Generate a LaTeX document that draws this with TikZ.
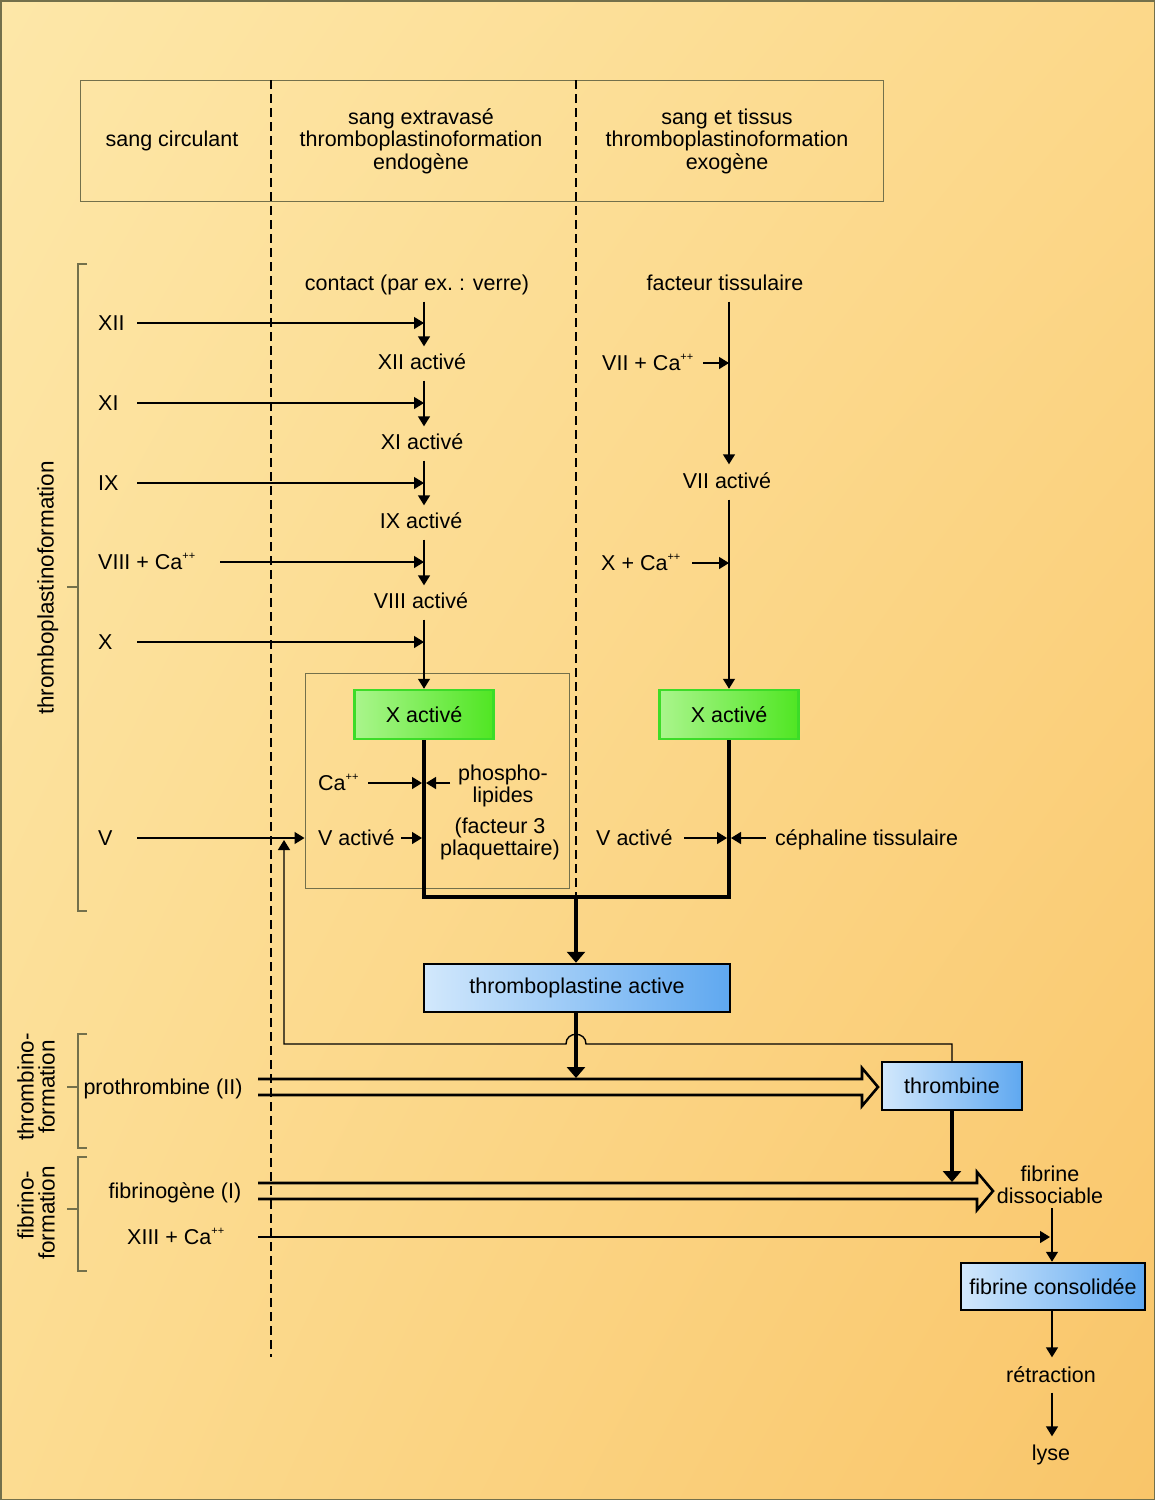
\documentclass[tikz,border=0pt]{standalone}
\usepackage{fontspec}
\setmainfont{Liberation Sans}
\usetikzlibrary{arrows.meta,calc,shadings}
\definecolor{bgA}{RGB}{253,231,168}
\definecolor{bgB}{RGB}{252,216,138}
\definecolor{bgC}{RGB}{252,220,145}
\definecolor{bgD}{RGB}{249,197,105}
\definecolor{olive}{RGB}{115,112,75}
\definecolor{gA}{RGB}{170,245,140}
\definecolor{gB}{RGB}{80,230,35}
\definecolor{gEdge}{RGB}{60,220,40}
\definecolor{bA}{RGB}{210,232,252}
\definecolor{bB}{RGB}{95,168,240}
\newcommand{\pp}{\raisebox{0.45em}{\fontsize{11}{11}\selectfont ++}}
\begin{document}
\begin{tikzpicture}[x=1pt,y=-1pt,
 lbl/.style={inner sep=0pt,text height=15pt,text depth=0pt,font=\fontsize{21.5}{22.5}\selectfont},
 rlbl/.style={inner sep=0pt,text height=15pt,text depth=0pt,rotate=90,font=\fontsize{22.5}{24}\selectfont},
 mlbl/.style={inner sep=0pt,align=center,font=\fontsize{21.5}{22.5}\selectfont},
 arr/.style={line width=1.4pt,-{Triangle[length=10pt,width=12pt]}},
 tarr/.style={line width=4pt,-{Triangle[length=11pt,width=18pt]}},
 tline/.style={line width=4pt,line join=miter},
 dline/.style={line width=1.4pt,dash pattern=on 9pt off 5pt},
 boxframe/.style={draw=olive,line width=1pt},
 brk/.style={draw=olive,line width=1.2pt},
 gbox/.style={draw=gEdge,line width=2.5pt,left color=gA,right color=gB,minimum width=139pt,minimum height=49pt,font=\fontsize{21.5}{22.5}\selectfont},
 bbox/.style={draw=black,line width=2.5pt,left color=bA,right color=bB,minimum height=48pt,font=\fontsize{21.5}{22.5}\selectfont},
 dbl/.style={line width=2.6pt,line join=miter},
 fb/.style={line width=1.4pt}
]
\useasboundingbox (0,0) rectangle (1155,1500);
\shade[upper left=bgA,upper right=bgB,lower left=bgC,lower right=bgD] (0,0) rectangle (1155,1500);
\draw[olive,line width=1.5pt] (0.75,0.75) rectangle (1154.25,1499.25);

% header
\draw[boxframe] (80,80) rectangle (883,201);
\node[lbl] (hc) at (172,139) {sang circulant};
\node[mlbl] (hendo) at (421,141) {sang extravasé\\thromboplastinoformation\\endogène};
\node[mlbl] (hexo) at (727,141) {sang et tissus\\thromboplastinoformation\\exogène};

% dashed separators
\coordinate (d1t) at (271,80); \coordinate (d1b) at (271,1357);
\coordinate (d2t) at (576,80); \coordinate (d2b) at (576,897);
\draw[dline] (d1t) -- (d1b);
\draw[dline] (d2t) -- (d2b);

% brackets
\draw[brk] (87,264) -- (78,264) -- (78,911) -- (87,911);
\draw[brk] (78,587) -- (67,587);
\draw[brk] (87,1034) -- (78,1034) -- (78,1148) -- (87,1148);
\draw[brk] (78,1087) -- (67,1087);
\draw[brk] (87,1157) -- (78,1157) -- (78,1271) -- (87,1271);
\draw[brk] (78,1209) -- (67,1209);
\node[rlbl] (lt1) at (46,588) {thromboplastinoformation};
\node[rlbl] (lt2) at (26,1087) {thrombino-};
\node[rlbl] (lt3) at (47,1087) {formation};
\node[rlbl] (lt4) at (26,1205) {fibrino-};
\node[rlbl] (lt5) at (47,1213) {formation};

% helper x positions
\coordinate (sx) at (137,0);
\coordinate (sx8) at (220,0);
\coordinate (ex) at (424,0);
\coordinate (ex2) at (729,0);
\coordinate (xl) at (422,0);
\coordinate (xr) at (426,0);
\coordinate (xl2) at (727,0);
\coordinate (xr2) at (731,0);
\coordinate (s7) at (703,0);
\coordinate (s10) at (692,0);

% platelet frame
\node[draw=olive,line width=1pt,minimum width=264pt,minimum height=215pt,inner sep=0pt] (plq) at (437,780.5) {};

% factor labels (left)
\node[lbl,anchor=west] (f12) at (98,323) {XII};
\node[lbl,anchor=west] (f11) at (98,403) {XI};
\node[lbl,anchor=west] (f9) at (98,483) {IX};
\node[lbl,anchor=west] (f8) at (98,562) {VIII + Ca\pp};
\node[lbl,anchor=west] (f10) at (98,642) {X};
\node[lbl,anchor=west] (f5) at (98,838) {V};

% endogenous column
\node[lbl] (contact) at (417,283) {contact (par ex.\ : verre)};
\node[lbl] (a12) at (422,362) {XII activé};
\node[lbl] (a11) at (422,442) {XI activé};
\node[lbl] (a9) at (421,521) {IX activé};
\node[lbl] (a8) at (421,601) {VIII activé};

% exogenous column
\node[lbl] (ft) at (725,283) {facteur tissulaire};
\node[lbl,anchor=west] (f7) at (602,363) {VII + Ca\pp};
\node[lbl] (a7) at (727,481) {VII activé};
\node[lbl,anchor=west] (f10b) at (601,563) {X + Ca\pp};

% thick junction
\coordinate (jn) at (576,897);
\coordinate (xa1b) at (424,739);
\coordinate (xa2b) at (729,739);
\draw[tline] (xa1b) |- (jn) -| (xa2b);

% boxes
\node[gbox] (xa1) at (424,714.5) {X activé};
\node[gbox] (xa2) at (729,714.5) {X activé};
\node[bbox,minimum width=306pt] (tp) at (577,988) {thromboplastine active};
\node[bbox,minimum width=140pt] (thr) at (952,1086) {thrombine};
\node[bbox,minimum width=184pt,minimum height=47pt] (fcons) at (1053,1286.5) {fibrine consolidée};

% endogenous arrows
\draw[arr] (f12 -| sx) -- (f12 -| ex);
\draw[arr] (f11 -| sx) -- (f11 -| ex);
\draw[arr] (f9 -| sx) -- (f9 -| ex);
\draw[arr] (f8 -| sx8) -- (f8 -| ex);
\draw[arr] (f10 -| sx) -- (f10 -| ex);
\draw[arr] ([yshift=-11pt]contact.south -| ex) -- ([yshift=8pt]a12.north -| ex);
\draw[arr] ([yshift=-11pt]a12.south -| ex) -- ([yshift=8pt]a11.north -| ex);
\draw[arr] ([yshift=-11pt]a11.south -| ex) -- ([yshift=8pt]a9.north -| ex);
\draw[arr] ([yshift=-11pt]a9.south -| ex) -- ([yshift=8pt]a8.north -| ex);
\draw[arr] ([yshift=-11pt]a8.south -| ex) -- (xa1.north);

% exogenous arrows
\draw[arr] ([yshift=-11pt]ft.south -| ex2) -- ([yshift=9pt]a7.north -| ex2);
\draw[arr] (f7 -| s7) -- (f7 -| ex2);
\draw[arr] ([yshift=-11pt]a7.south -| ex2) -- (xa2.north);
\draw[arr] (f10b -| s10) -- (f10b -| ex2);

% platelet cofactors
\node[lbl,anchor=west] (ca) at (318,783) {Ca\pp};
\node[mlbl] (phos) at (503,786) {phospho-\\lipides};
\node[mlbl] (fac3) at (500,839) {(facteur 3\\plaquettaire)};
\node[lbl,anchor=west] (va1) at (318,838) {V activé};
\coordinate (c368) at (368,0);
\coordinate (c450) at (450,0);
\draw[arr] (ca -| c368) -- (ca -| xl);
\draw[arr] (ca -| c450) -- (ca -| xr);
\coordinate (c401) at (401,0);
\draw[arr] (va1 -| c401) -- (va1 -| xl);
\draw[arr] (f5 -| sx) -- (f5 -| plq.west);

% tissue cofactors
\node[lbl,anchor=west] (va2) at (596,838) {V activé};
\node[lbl,anchor=west] (ceph) at (775,838) {céphaline tissulaire};
\coordinate (c684) at (684,0);
\coordinate (c766) at (766,0);
\draw[arr] (va2 -| c684) -- (va2 -| xl2);
\draw[arr] (ceph -| c766) -- (ceph -| xr2);

% to thromboplastine
\draw[tarr] (jn) -- (tp.north -| jn);

% prothrombine double arrow
\node[lbl] (proth) at (163,1087) {prothrombine (II)};
\coordinate (pS) at (258,1087);
\coordinate (pT) at (878,1087);
\draw[dbl] ($(pS)+(0,-8)$) -- ($(pT)+(-16,-8)$) -- ($(pT)+(-16,-19)$) -- (pT) -- ($(pT)+(-16,19)$) -- ($(pT)+(-16,8)$) -- ($(pS)+(0,8)$);

% feedback line with hop
\coordinate (fbY) at (0,1044);
\coordinate (fbX) at (284,0);
\coordinate (hop) at (576,1044);
\draw[fb,-{Triangle[length=10pt,width=12pt]}] (thr.north) -- (thr.north |- fbY) -- ($(hop)+(10,0)$) .. controls ($(hop)+(10,-13)$) and ($(hop)+(-10,-13)$) .. ($(hop)+(-10,0)$) -- (fbX |- fbY) -- ([yshift=-2pt]fbX |- f5);

% thromboplastine to prothrombine
\draw[tarr] (tp.south -| jn) -- ([yshift=9pt]jn |- pS);

% fibrinogene double arrow
\node[lbl] (fibg) at (175,1191) {fibrinogène (I)};
\coordinate (qS) at (258,1191);
\coordinate (qT) at (993,1191);
\draw[dbl] ($(qS)+(0,-8)$) -- ($(qT)+(-16,-8)$) -- ($(qT)+(-16,-19)$) -- (qT) -- ($(qT)+(-16,19)$) -- ($(qT)+(-16,8)$) -- ($(qS)+(0,8)$);
\draw[tarr] (thr.south) -- ([yshift=9pt]thr.south |- qS);

% fibrine
\node[mlbl] (fdis) at (1050,1185) {fibrine\\dissociable};
\coordinate (fx) at (1052,0);
\coordinate (fxl) at (1050,0);
\coordinate (sX) at (258,0);
\draw[arr] ([yshift=-4pt]fdis.south -| fx) -- (fcons.north -| fx);
\node[lbl,anchor=west] (f13) at (127,1237) {XIII + Ca\pp};
\draw[arr] (f13 -| sX) -- (f13 -| fxl);

% retraction, lyse
\node[lbl] (retr) at (1051,1375) {rétraction};
\node[lbl] (lyse) at (1051,1453) {lyse};
\draw[arr] (fcons.south -| fx) -- ([yshift=10pt]retr.north -| fx);
\draw[arr] ([yshift=-10pt]retr.south -| fx) -- ([yshift=9pt]lyse.north -| fx);
\end{tikzpicture}
\end{document}
